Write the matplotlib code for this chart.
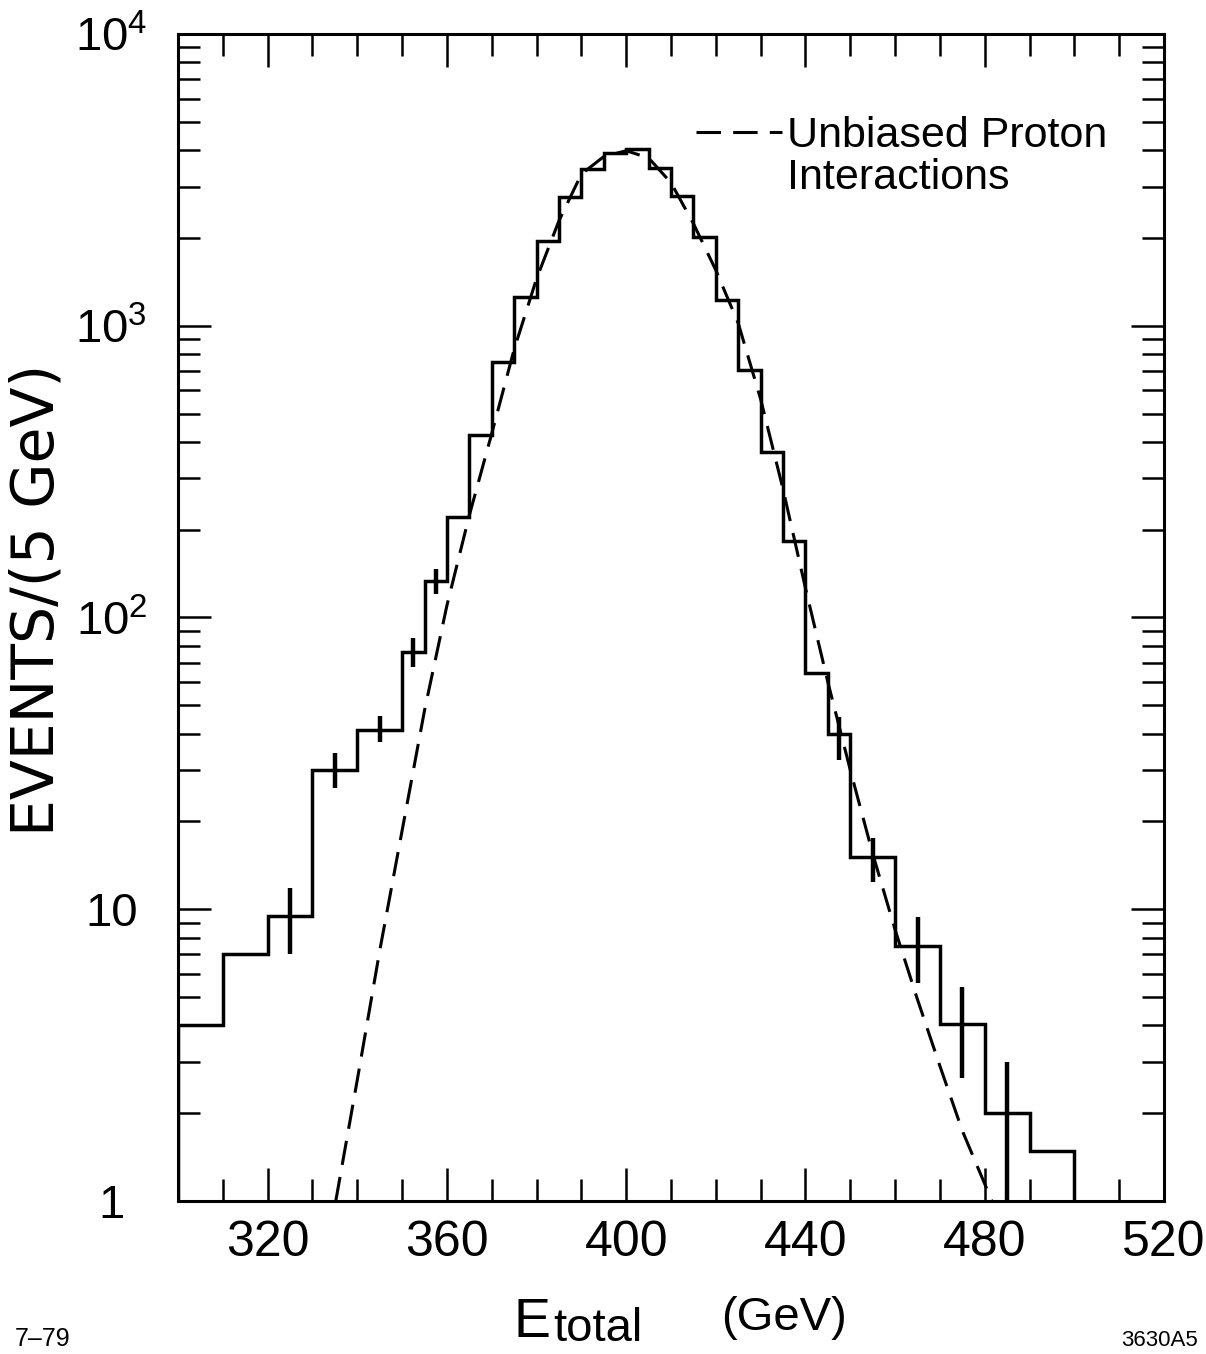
import numpy as np
import matplotlib.pyplot as plt
from matplotlib.lines import Line2D
from matplotlib.ticker import FixedLocator, NullFormatter

# histogram: bin edges (GeV) and events per 5 GeV
edges = [300, 310, 320, 330, 340, 350, 355, 360, 365, 370, 375, 380, 385, 390,
         395, 400, 405, 410, 415, 420, 425, 430, 435, 440, 445, 450, 460, 470,
         480, 490, 500]
counts = [4.0, 7.0, 9.5, 30, 41, 76, 133, 221, 422, 750, 1258, 1958, 2768, 3440,
          3900, 4050, 3460, 2790, 2010, 1222, 707, 370, 183, 64.4, 39.8, 15.1,
          7.5, 4.04, 2.0, 1.48]

# error bars drawn on some bins
err_x = [325, 335, 345, 352.5, 357.5, 447.5, 455, 465, 475, 485]
err_lo = [7.0, 26.0, 37.3, 67.5, 120, 32.5, 12.4, 5.6, 2.65, 1.0]
err_hi = [11.8, 34.3, 46.0, 85.0, 147, 45.5, 17.6, 9.4, 5.4, 3.0]

# dashed curve: unbiased proton interactions
curve_x = [335.2, 340, 345, 350, 355, 360, 365, 370, 375, 380, 385, 390, 395,
           400, 405, 410, 415, 420, 425, 430, 435, 440, 445, 450, 455, 460,
           465, 470, 475, 481.6]
curve_y = [1.0, 2.6, 7.2, 18.6, 48, 110, 224, 427, 830, 1450, 2290, 3310, 3800,
           3980, 3760, 3090, 2240, 1550, 1020, 560, 275, 126, 60, 30, 15.5, 8.5,
           4.9, 2.9, 1.74, 1.0]

xticks = [320, 360, 400, 440, 480, 520]
yticks = [1, 10, 100, 1000, 10000]
ylabels = ['1', '10', r'$\mathregular{10^2}$', r'$\mathregular{10^3}$', r'$\mathregular{10^4}$']

plt.rcParams['font.family'] = ['Liberation Sans', 'DejaVu Sans']

fig = plt.figure(figsize=(12.06, 13.54), dpi=100)
ax = fig.add_axes([0.1476, 0.1130, 0.8176, 0.8619])

ax.stairs(counts, edges, baseline=1, color='black', lw=2.5)
ax.vlines(err_x, err_lo, err_hi, color='black', lw=3.2)
dash, = ax.plot(curve_x, curve_y, color='black', lw=2.2)
dash.set_dashes([8, 4])

ax.set_yscale('log')
ax.set_xlim(300, 520)
ax.set_ylim(1, 10000)

ax.xaxis.set_major_locator(FixedLocator(xticks))
ax.xaxis.set_minor_locator(FixedLocator(np.arange(310, 520, 10)))
ax.set_xticks(xticks, [str(v) for v in xticks])
ax.set_yticks(yticks, ylabels)
ax.yaxis.set_minor_locator(FixedLocator([m * 10**k for k in range(4) for m in range(2, 10)]))
ax.yaxis.set_minor_formatter(NullFormatter())

ax.tick_params(which='both', direction='in', top=True, right=True, width=1.8, color='black')
ax.tick_params(which='major', length=24)
ax.tick_params(which='minor', length=16)
ax.tick_params(axis='x', which='major', labelsize=36, pad=14)
ax.tick_params(axis='y', which='major', labelsize=34, pad=48)
for lab in ax.get_yticklabels():
    lab.set_horizontalalignment('center')
for s in ax.spines.values():
    s.set_linewidth(2.2)

# legend
blank = Line2D([], [], color='none')
ax.legend([dash, blank], ['Unbiased Proton', 'Interactions'], loc='upper left',
          bbox_to_anchor=(0.525, 0.93), frameon=False, fontsize=31,
          handlelength=2.0, handletextpad=0.12, labelspacing=0.05, borderpad=0,
          borderaxespad=0)

# axis titles
fig.text(0.031, 0.557, 'EVENTS/(5 GeV)', rotation=90, ha='center', va='center',
         fontsize=42, family='DejaVu Sans')
fig.text(0.426, 0.0125, 'E', fontsize=40, ha='left', va='baseline')
fig.text(0.4585, 0.0095, 'total', fontsize=34, ha='left', va='baseline')
fig.text(0.598, 0.018, '(GeV)', fontsize=34, ha='left', va='baseline')
fig.text(0.012, 0.006, '7\u201379', fontsize=18, ha='left', va='baseline')
fig.text(0.993, 0.006, '3630A5', fontsize=16, ha='right', va='baseline')

fig.savefig('out.png', dpi=100)
